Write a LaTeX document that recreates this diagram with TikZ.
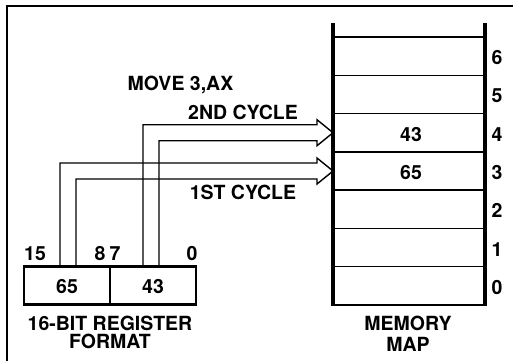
\documentclass[tikz,border=0pt]{standalone}
\usepackage{fontspec}
\setmainfont{TeX Gyre Heros}
\usetikzlibrary{calc}
\begin{document}
\begin{tikzpicture}[x=1pt,y=-1pt,
  lbl/.style={font=\bfseries\fontsize{19.5}{21}\selectfont, inner sep=0, anchor=base},
  memcell/.style={draw, line width=1.4pt, minimum width=152pt, minimum height=38.29pt, inner sep=0, outer sep=0},
  regfield/.style={draw, line width=1.3pt, minimum width=86pt, minimum height=38pt, inner sep=0, outer sep=0},
  arrowline/.style={line width=1.4pt, line join=miter},
  thickline/.style={line width=3.2pt}]
\useasboundingbox (0,0) rectangle (513,361);
% frame
\draw[line width=2pt] (7,361) -- (7,6) -- (513,6);
% memory cells
\foreach \k in {0,...,6}{
  \node[memcell] (m\k) at (409,{56.14+(6-\k)*38.29}) {};
  \node[lbl] (d\k) at ($(m\k.east)+(12,8.5)$) {\k};
}
\node[lbl] (v4) at ($(m4.center)+(2,8.5)$) {43};
\node[lbl] (v3) at ($(m3.center)+(2,8.5)$) {65};
\draw[thickline] (333,23) -- (333,306);
\draw[thickline] (485,23) -- (485,306);
\draw[line width=2.8pt] (333,37) -- (485,37);
\draw[line width=2.8pt] (333,305) -- (485,305);
\node[lbl] (mm1) at (408,330) {MEMORY};
\node[lbl] (mm2) at (408,351) {MAP};
% register
\node[regfield] (rl) at (67,285.5) {};
\node[regfield] (rr) at (153,285.5) {};
\node[lbl] at (67,293) {65};
\node[lbl] at (153,293) {43};
\draw[line width=2.8pt] (rl.north west) rectangle (rr.south east);
\node[lbl] (b15) at (35,260) {15};
\node[lbl] (b8) at (100,260) {8};
\node[lbl] (b7) at (115,260) {7};
\node[lbl] (b0) at (192,260) {0};
\node[lbl] (rf1) at (110,330) {16-BIT REGISTER};
\node[lbl] (rf2) at (110,348) {FORMAT};
% arrows
\draw[arrowline] ($(rl.north west)+(36,0)$) |- ($(m3.west)+(-16,-8)$) -- ++(0,-5) -- (m3.west)
   -- ($(m3.west)+(-16,13)$) -- ++(0,-5) -| ($(rl.north west)+(52,0)$);
\draw[arrowline] ($(rr.north west)+(33,0)$) |- ($(m4.west)+(-16,-8)$) -- ++(0,-5) -- (m4.west)
   -- ($(m4.west)+(-16,13)$) -- ++(0,-5) -| ($(rr.north west)+(49,0)$);
% labels
\node[lbl] (mv) at (180.5,90.5) {MOVE 3,AX};
\node[lbl] (c2) at (243,119) {2ND CYCLE};
\node[lbl] (c1) at (243,199) {1ST CYCLE};
\end{tikzpicture}
\end{document}
